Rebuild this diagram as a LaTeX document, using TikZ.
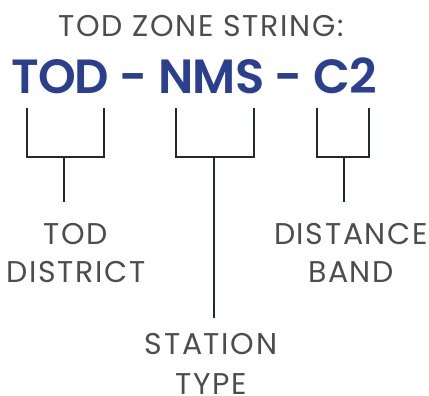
\documentclass[tikz,border=0pt]{standalone}
\usepackage{fontspec}
\setmainfont{Poppins}
\newfontfamily\codefont{Poppins SemiBold}
\definecolor{zoneblue}{HTML}{2A3F8E}
\definecolor{labelgrey}{HTML}{4D4D4D}
\definecolor{bracketink}{HTML}{222A2A}
\begin{document}
\begin{tikzpicture}[x=1pt,y=-1pt,
  label/.style={text=labelgrey, font=\addfontfeature{LetterSpace=5.5}\fontsize{30}{38}\selectfont, inner sep=0pt, align=center, anchor=base, text depth=0pt},
  code/.style={text=zoneblue, font=\codefont\addfontfeature{LetterSpace=-1.8}\fontsize{48}{48}\selectfont, inner sep=0pt, anchor=base},
  bracket/.style={draw=bracketink, line width=2pt}]
\useasboundingbox (0,0) rectangle (429,396);

% heading and the zone string
\node[label] (title) at (201,37) {TOD ZONE STRING:};
\node[code] (zone) at (194,94) {TOD - NMS - C2};

% brackets under each part of the string
\coordinate (tod-stem)  at (64,157);
\coordinate (nms-stem)  at (214,157);
\coordinate (band-stem) at (344,157);
\coordinate (tod-end)  at (64,202);
\coordinate (nms-end)  at (214,318);
\coordinate (band-end) at (344,202);

\draw[bracket] (27,108) |- (104,157) -- (104,108);
\draw[bracket] (176,108) |- (254,157) -- (254,108);
\draw[bracket] (317,108) |- (369,157) -- (369,108);

\draw[bracket] (tod-stem) -- (tod-end);
\draw[bracket] (nms-stem) -- (nms-end);
\draw[bracket] (band-stem) -- (band-end);

% what each part means (base anchor sits on the last line)
\node[label] (district) at (76,282) {TOD\\DISTRICT};
\node[label, font=\addfontfeature{LetterSpace=5.5}\fontsize{30}{40}\selectfont] (station) at (211,394) {STATION\\TYPE};
\node[label] (distance) at (351,282) {DISTANCE\\BAND};
\end{tikzpicture}
\end{document}
